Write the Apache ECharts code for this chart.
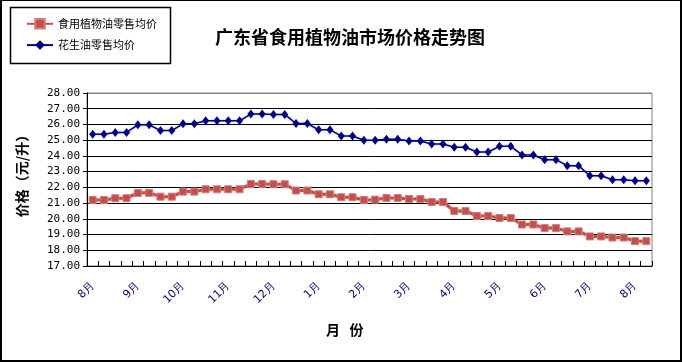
<!DOCTYPE html>
<html>
<head>
<meta charset="utf-8">
<script src="https://cdn.jsdelivr.net/npm/echarts@6/dist/echarts.min.js"></script>
<style>
html,body{margin:0;padding:0;background:#fff;}
#wrap{width:678px;height:359px;border-left:2px solid #000;border-right:2px solid #000;border-bottom:2px solid #000;border-top:1px solid #000;}
#chart{width:678px;height:359px;}
</style>
</head>
<body>
<div id="wrap"><div id="chart"></div></div>
<script>
var titleText = '广东省食用植物油市场价格走势图';
var seriesNames = ['食用植物油零售均价', '花生油零售均价'];
var categories = [
 '8月','8月','8月','8月','9月','9月','9月','9月','10月','10月','10月','10月',
 '11月','11月','11月','11月','12月','12月','12月','12月','1月','1月','1月','1月',
 '2月','2月','2月','2月','3月','3月','3月','3月','4月','4月','4月','4月',
 '5月','5月','5月','5月','6月','6月','6月','6月','7月','7月','7月','7月',
 '8月','8月'
];
var edibleOil = [
 21.20,21.20,21.31,21.31,21.65,21.65,21.41,21.41,21.73,21.73,
 21.88,21.88,21.88,21.88,22.22,22.22,22.20,22.20,21.80,21.80,
 21.56,21.56,21.37,21.37,21.20,21.22,21.33,21.33,21.26,21.26,
 21.07,21.07,20.50,20.50,20.18,20.18,20.05,20.05,19.64,19.64,
 19.41,19.41,19.20,19.20,18.88,18.88,18.81,18.81,18.58,18.58
];
var peanutOil = [
 25.38,25.38,25.49,25.49,25.98,25.98,25.61,25.61,26.04,26.04,
 26.23,26.23,26.23,26.23,26.66,26.66,26.64,26.64,26.06,26.06,
 25.66,25.66,25.27,25.27,25.00,25.00,25.06,25.06,24.95,24.95,
 24.76,24.76,24.55,24.55,24.25,24.25,24.61,24.61,24.06,24.06,
 23.76,23.76,23.38,23.38,22.74,22.74,22.48,22.48,22.42,22.42
];
var yMin = 17, yMax = 28, yStep = 1;
var yAxisName = '价格（元/升）';
var xAxisName = '月   份';

var splitColors = [];
for (var v = yMin; v <= yMax; v += yStep) { splitColors.push(v === yMax ? '#808080' : '#000000'); }

var chart = echarts.init(document.getElementById('chart'), null, {renderer: 'canvas'});
var cjk = '"Noto Sans CJK SC", sans-serif';
chart.setOption({
  animation: false,
  backgroundColor: '#ffffff',
  title: {
    text: titleText, left: 343, top: 22, textAlign: 'center',
    textStyle: {fontSize: 18, fontWeight: 'bold', color: '#000', fontFamily: cjk}
  },
  legend: {
    orient: 'vertical', left: 19, top: 12, itemWidth: 26, itemHeight: 12, itemGap: 10,
    textStyle: {fontSize: 11, color: '#000', fontFamily: cjk},
    data: seriesNames
  },
  graphic: [
    {type: 'rect', left: 6, top: 4, shape: {width: 160, height: 56}, style: {fill: 'none', stroke: '#000', lineWidth: 1.5}, z: -1},
    {type: 'text', left: 324, top: 322, style: {text: xAxisName, font: 'bold 14px "Noto Sans CJK SC", sans-serif', fill: '#000'}}
  ],
  grid: {left: 85, right: 28, top: 92, bottom: 94, show: true, borderColor: '#808080', borderWidth: 1, backgroundColor: 'transparent'},
  xAxis: {
    type: 'category', data: categories, boundaryGap: true,
    axisLine: {lineStyle: {color: '#000', width: 1}},
    axisTick: {show: true, inside: true, length: 5, interval: 0, lineStyle: {color: '#000'}},
    axisLabel: {interval: 3, rotate: 45, margin: 18, fontSize: 11, color: '#00006a', fontFamily: '"DejaVu Sans", sans-serif'},
    splitLine: {show: false}
  },
  yAxis: {
    type: 'value', min: yMin, max: yMax, interval: yStep,
    name: yAxisName, nameLocation: 'middle', nameGap: 58, nameRotate: 90,
    nameTextStyle: {fontSize: 14, fontWeight: 'bold', color: '#000', fontFamily: cjk, padding: [0, 0, 0, 14]},
    axisLine: {show: true, lineStyle: {color: '#000', width: 1}},
    axisTick: {show: true, inside: false, length: 4, lineStyle: {color: '#000'}},
    axisLabel: {margin: 7, fontSize: 11, color: '#000', fontFamily: '"DejaVu Sans Mono", monospace', formatter: function (v) { return v.toFixed(2); }},
    splitLine: {show: true, lineStyle: {color: splitColors, width: 1}}
  },
  series: [
    {
      name: seriesNames[0], type: 'line', data: edibleOil, showAllSymbol: true,
      symbol: 'rect', symbolSize: 7,
      lineStyle: {color: '#C0504D', width: 3, shadowColor: 'rgba(192,80,77,0.4)', shadowBlur: 2},
      itemStyle: {color: '#C0504D', borderColor: '#D27C79', borderWidth: 1}
    },
    {
      name: seriesNames[1], type: 'line', data: peanutOil, showAllSymbol: true,
      symbol: 'diamond', symbolSize: [7, 9],
      lineStyle: {color: '#000080', width: 1.5, shadowColor: 'rgba(100,100,200,0.5)', shadowBlur: 2},
      itemStyle: {color: '#000080'}
    }
  ]
});
</script>
</body>
</html>
